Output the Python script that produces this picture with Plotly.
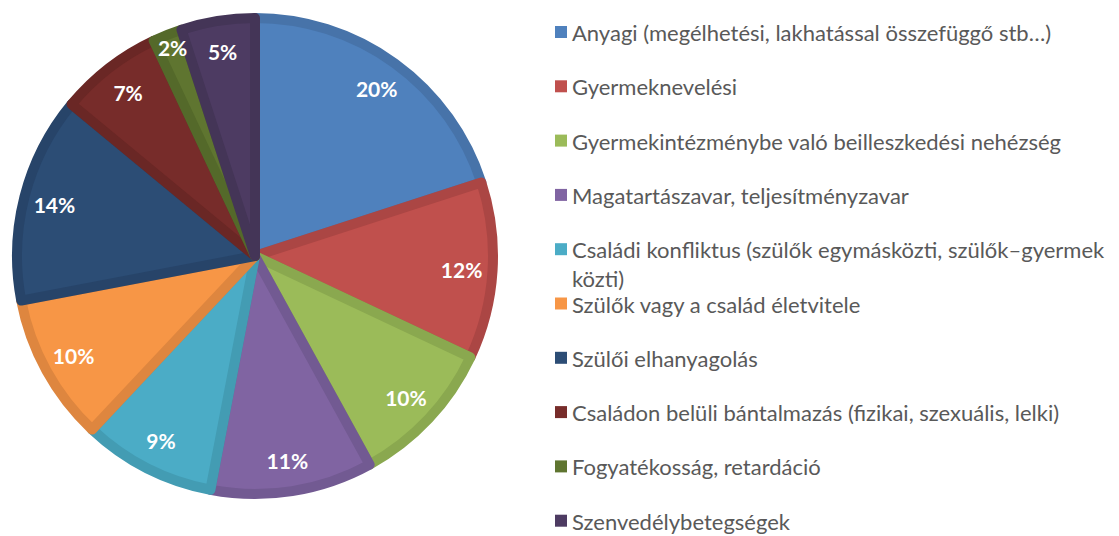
import plotly.graph_objects as go

# ---- data ----
categories = [
    "Anyagi (megélhetési, lakhatással összefüggő stb…)",
    "Gyermeknevelési",
    "Gyermekintézménybe való beilleszkedési nehézség",
    "Magatartászavar, teljesítményzavar",
    "Családi konfliktus (szülők egymásközti, szülők–gyermek<br>közti)",
    "Szülők vagy a család életvitele",
    "Szülői elhanyagolás",
    "Családon belüli bántalmazás (fizikai, szexuális, lelki)",
    "Fogyatékosság, retardáció",
    "Szenvedélybetegségek",
]
values = [20, 12, 10, 11, 9, 10, 14, 7, 2, 5]

fill_colors = ["#4F81BD", "#C0504D", "#9BBB59", "#8064A2", "#4BACC6",
               "#F79646", "#2C4D75", "#772C2A", "#5F7530", "#4D3B62"]
edge_colors = ["#4773A9", "#AB4644", "#8AA84F", "#725A92", "#439CB3",
               "#DE863F", "#274469", "#6A2725", "#54692A", "#443557"]

W, H = 1119, 536
cx, cy, R = 255, 256, 238
dom_x = [(cx - R) / W, (cx + R) / W]
dom_y = [1 - (cy + R) / H, 1 - (cy - R) / H]

fig = go.Figure()
fig.add_trace(go.Pie(
    labels=categories, values=values, sort=False, direction="clockwise",
    rotation=0, domain=dict(x=dom_x, y=dom_y),
    marker=dict(colors=fill_colors, line=dict(color=edge_colors, width=10)),
    textinfo="none", showlegend=False, hoverinfo="label+percent",
))
# transparent ring trace carrying the percentage labels near the rim
fig.add_trace(go.Pie(
    labels=categories, values=values, sort=False, direction="clockwise",
    rotation=0, domain=dict(x=dom_x, y=dom_y), hole=0.74,
    marker=dict(colors=["rgba(0,0,0,0)"] * len(values), line=dict(width=0)),
    texttemplate="%{value}%", textposition="inside",
    insidetextorientation="horizontal",
    textfont=dict(family="Lato", size=21, color="white", weight="bold"),
    showlegend=False, hoverinfo="skip",
))

# manual legend
row0, step = 32, 54.3
for i, (lab, col) in enumerate(zip(categories, fill_colors)):
    yc = row0 + i * step
    fig.add_shape(type="rect", xref="paper", yref="paper",
                  x0=555 / W, x1=567 / W,
                  y0=1 - (yc + 6) / H, y1=1 - (yc - 6) / H,
                  fillcolor=col, line=dict(width=0))
    fig.add_annotation(xref="paper", yref="paper", x=570 / W,
                       y=1 - (yc - 15) / H, xanchor="left", yanchor="top",
                       text=lab, showarrow=False, align="left",
                       font=dict(family="Lato", size=22, color="#595959"))

fig.update_layout(width=W, height=H, margin=dict(l=0, r=0, t=0, b=0),
                  paper_bgcolor="white", plot_bgcolor="white",
                  uniformtext=dict(minsize=21, mode="show"))
fig.write_html("out.html", config={"displayModeBar": False},
               post_script="document.body.style.margin='0';document.body.style.overflow='hidden';")
